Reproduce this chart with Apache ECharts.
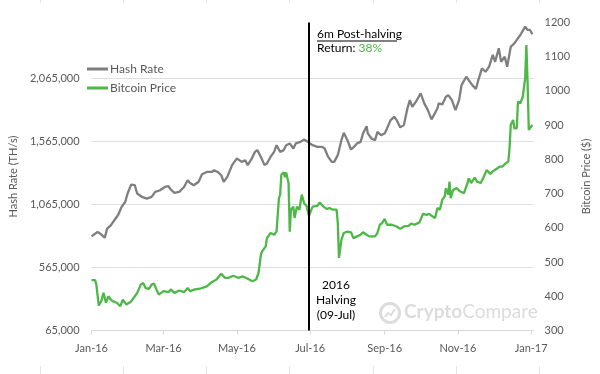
<!DOCTYPE html>
<html><head><meta charset="utf-8">
<script src="https://cdn.jsdelivr.net/npm/echarts@6.0.0/dist/echarts.min.js"></script>
<style>html,body{margin:0;padding:0;background:#fff}#c{width:600px;height:374px}</style>
</head><body><div id="c"></div>
<script>
// ---- data ----
const hashDates = ['2016-01-01','2016-01-06','2016-01-09','2016-01-12','2016-01-14','2016-01-17','2016-01-21','2016-01-23','2016-01-26','2016-01-29','2016-01-31',
'2016-02-03','2016-02-06','2016-02-08','2016-02-12','2016-02-16','2016-02-20','2016-02-23','2016-02-27',
'2016-03-02','2016-03-05','2016-03-07','2016-03-10','2016-03-14','2016-03-18','2016-03-21','2016-03-23','2016-03-26','2016-03-30',
'2016-04-02','2016-04-06','2016-04-10','2016-04-12','2016-04-15','2016-04-18','2016-04-20','2016-04-23','2016-04-27',
'2016-05-01','2016-05-05','2016-05-08','2016-05-10','2016-05-13','2016-05-16','2016-05-18','2016-05-21','2016-05-24','2016-05-26','2016-05-29',
'2016-06-01','2016-06-03','2016-06-06','2016-06-09','2016-06-11','2016-06-14','2016-06-17','2016-06-19','2016-06-23','2016-06-26','2016-06-29',
'2016-07-03','2016-07-07','2016-07-11','2016-07-13','2016-07-16','2016-07-19','2016-07-21','2016-07-24','2016-07-27','2016-07-29',
'2016-08-01','2016-08-04','2016-08-06','2016-08-09','2016-08-12','2016-08-14','2016-08-17','2016-08-18','2016-08-21','2016-08-24','2016-08-26','2016-08-29',
'2016-09-01','2016-09-03','2016-09-06','2016-09-09','2016-09-11','2016-09-14','2016-09-17','2016-09-20','2016-09-22','2016-09-24','2016-09-27',
'2016-10-01','2016-10-04','2016-10-07','2016-10-10','2016-10-12','2016-10-15','2016-10-16','2016-10-19','2016-10-22','2016-10-24','2016-10-27','2016-10-30',
'2016-11-02','2016-11-04','2016-11-08','2016-11-10','2016-11-13','2016-11-16','2016-11-18','2016-11-21','2016-11-24','2016-11-27','2016-11-30',
'2016-12-02','2016-12-05','2016-12-07','2016-12-10','2016-12-12','2016-12-15','2016-12-18','2016-12-20','2016-12-23','2016-12-27','2016-12-29','2016-12-31',
'2017-01-02'];
const hashRate = [811000,845000,827000,801000,872000,898000,952000,978000,1044000,1083000,1150000,
1221000,1216000,1150000,1123000,1110000,1123000,1163000,1176000,
1202000,1208000,1182000,1155000,1163000,1202000,1255000,1234000,1216000,1242000,
1303000,1321000,1321000,1335000,1321000,1295000,1242000,1282000,1375000,
1428000,1401000,1414000,1375000,1420000,1480000,1494000,1440000,1375000,1388000,1440000,
1480000,1533000,1480000,1494000,1533000,1547000,1507000,1547000,1559000,1578000,1559000,
1533000,1520000,1520000,1507000,1440000,1401000,1401000,1454000,1573000,1631000,
1573000,1499000,1515000,1547000,1559000,1626000,1684000,1626000,1586000,1573000,1639000,1613000,
1626000,1666000,1732000,1758000,1732000,1674000,1692000,1825000,1890000,1837000,1877000,
1944000,1864000,1811000,1737000,1771000,1825000,1864000,1856000,1917000,1930000,1890000,1811000,
1890000,2009000,2075000,2049000,2009000,1978000,2049000,2142000,2115000,2155000,2248000,
2194000,2301000,2194000,2234000,2155000,2313000,2340000,2367000,2406000,2472000,2446000,2446000,
2412000];

const priceDates = ['2016-01-01','2016-01-04','2016-01-05','2016-01-07','2016-01-09','2016-01-11','2016-01-13','2016-01-15','2016-01-17','2016-01-19','2016-01-22','2016-01-25','2016-01-27','2016-01-30',
'2016-02-03','2016-02-06','2016-02-08','2016-02-11','2016-02-13','2016-02-15','2016-02-18','2016-02-20','2016-02-22','2016-02-24','2016-02-26',
'2016-03-01','2016-03-05','2016-03-07','2016-03-10','2016-03-14','2016-03-18','2016-03-21','2016-03-23','2016-03-27','2016-03-31',
'2016-04-06','2016-04-10','2016-04-14','2016-04-18','2016-04-21','2016-04-24','2016-04-28',
'2016-05-02','2016-05-06','2016-05-10','2016-05-14','2016-05-17','2016-05-19','2016-05-21','2016-05-22','2016-05-25','2016-05-26','2016-05-29',
'2016-06-01','2016-06-03','2016-06-05','2016-06-06','2016-06-07','2016-06-09','2016-06-10','2016-06-11','2016-06-13','2016-06-14','2016-06-15','2016-06-17','2016-06-18','2016-06-20','2016-06-22','2016-06-24','2016-06-26','2016-06-28','2016-06-30',
'2016-07-03','2016-07-07','2016-07-09','2016-07-12','2016-07-15','2016-07-17','2016-07-20','2016-07-23','2016-07-24','2016-07-25','2016-07-27','2016-07-29',
'2016-08-01','2016-08-04','2016-08-06','2016-08-09','2016-08-12','2016-08-14','2016-08-17','2016-08-19','2016-08-24','2016-08-26','2016-08-28','2016-08-30',
'2016-09-01','2016-09-03','2016-09-07','2016-09-11','2016-09-14','2016-09-17','2016-09-21','2016-09-23','2016-09-26','2016-09-30',
'2016-10-03','2016-10-06','2016-10-08','2016-10-11','2016-10-13','2016-10-15','2016-10-17','2016-10-19','2016-10-21','2016-10-22','2016-10-24','2016-10-25','2016-10-26','2016-10-28','2016-10-31',
'2016-11-03','2016-11-06','2016-11-09','2016-11-10','2016-11-12','2016-11-15','2016-11-17','2016-11-20','2016-11-22','2016-11-25','2016-11-28','2016-11-30',
'2016-12-03','2016-12-06','2016-12-08','2016-12-11','2016-12-13','2016-12-14','2016-12-15','2016-12-17','2016-12-18','2016-12-20','2016-12-21','2016-12-23','2016-12-25','2016-12-27','2016-12-28','2016-12-29','2016-12-30','2016-12-31',
'2017-01-02'];
const btcPrice = [447,447,434,373,385,410,381,400,390,385,381,371,390,376,
385,400,410,434,439,424,422,434,437,420,405,
415,412,420,410,417,412,424,415,420,422,
429,441,449,466,454,454,460,
454,458,451,444,449,468,522,531,546,570,585,
580,589,687,697,755,762,748,762,731,589,653,662,629,662,653,697,672,664,635,
662,664,674,662,655,658,653,653,614,512,565,585,
589,587,570,575,580,587,580,575,575,585,609,614,
626,609,609,604,597,604,606,612,609,616,
641,638,641,633,629,658,653,682,692,716,697,735,687,711,716,
706,701,731,745,731,747,735,731,745,769,757,765,
772,779,779,789,794,833,901,915,891,891,969,964,983,1037,1134,1027,886,891,
901];

const tickDates = ['2016-01-01','2016-03-01','2016-05-01','2016-07-01','2016-09-01','2016-11-01','2017-01-01'];
const tickLabels = ['Jan-16','Mar-16','May-16','Jul-16','Sep-16','Nov-16','Jan-17'];
const xRange = ['2016-01-01', '2017-01-03'];
const halvingLineDate = '2016-06-30';
const hashTicks = [65000, 2505000, 500000]; // min, max, step
const priceTicks = [300, 1200, 100];

// ---- chart ----
const P = s => { const [y, m, d] = s.split('-').map(Number); return Date.UTC(y, m - 1, d); };
const tickTimes = tickDates.map(P);
const FONT = 'Lato';
const AX = '#595959';
const GRAY = '#7f7f7f';
const GREEN = '#4db848';

const chart = echarts.init(document.getElementById('c'), null, {renderer: 'canvas'});
const colLines = [40, 123, 206, 289, 373, 456, 539];
const deco = [];
colLines.forEach(x => {
  deco.push({type: 'line', silent: true, shape: {x1: x + 0.5, y1: 0, x2: x + 0.5, y2: 3}, style: {stroke: '#e4e4e4', lineWidth: 1}});
  deco.push({type: 'line', silent: true, shape: {x1: x + 0.5, y1: 366, x2: x + 0.5, y2: 374}, style: {stroke: '#e4e4e4', lineWidth: 1}});
});

chart.setOption({
  animation: false,
  backgroundColor: '#fff',
  textStyle: {fontFamily: FONT},
  grid: {left: 80, right: 60, top: 22.5, bottom: 43.5, containLabel: false},
  legend: {
    orient: 'vertical', left: 82, top: 58, itemWidth: 21, itemHeight: 3, itemGap: 7,
    textStyle: {fontFamily: FONT, fontSize: 12, color: AX, padding: [0, 0, 0, -3]},
    data: [{name: 'Hash Rate', icon: 'rect'}, {name: 'Bitcoin Price', icon: 'rect'}]
  },
  xAxis: {
    type: 'value', min: P(xRange[0]), max: P(xRange[1]),
    axisLine: {lineStyle: {color: '#d9d9d9', width: 1}},
    axisTick: {show: true, length: 4, customValues: tickTimes, lineStyle: {color: '#d9d9d9'}},
    axisLabel: {
      customValues: tickTimes, margin: 12, color: AX, fontFamily: FONT, fontSize: 11,
      formatter: v => { let i = tickTimes.findIndex(t => Math.abs(t - v) < 43200000); return i >= 0 ? tickLabels[i] : ''; }
    },
    splitLine: {show: false}
  },
  yAxis: [{
    type: 'value', min: hashTicks[0], max: hashTicks[1], interval: hashTicks[2],
    name: 'Hash Rate (TH/s)', nameLocation: 'middle', nameGap: 65,
    nameTextStyle: {color: AX, fontFamily: FONT, fontSize: 11},
    axisLine: {show: false}, axisTick: {show: false},
    axisLabel: {color: AX, fontFamily: FONT, fontSize: 11, margin: 12, showMaxLabel: false,
      formatter: v => v.toLocaleString('en-US')},
    splitLine: {show: true, showMaxLine: false, lineStyle: {color: '#dedede', width: 1}}
  }, {
    type: 'value', position: 'right', min: priceTicks[0], max: priceTicks[1], interval: priceTicks[2],
    name: 'Bitcoin Price ($)', nameLocation: 'middle', nameGap: 43, nameRotate: 90,
    nameTextStyle: {color: AX, fontFamily: FONT, fontSize: 11},
    axisLine: {show: false}, axisTick: {show: false},
    axisLabel: {color: AX, fontFamily: FONT, fontSize: 11, margin: 11, formatter: v => String(v)},
    splitLine: {show: false}
  }],
  series: [{
    name: 'Hash Rate', type: 'line', yAxisIndex: 0, showSymbol: false, symbol: 'none',
    data: hashDates.map((d, i) => [P(d), hashRate[i]]),
    lineStyle: {color: GRAY, width: 2.3}, itemStyle: {color: GRAY}, z: 3,
    markLine: {silent: true, symbol: 'none', label: {show: false},
      lineStyle: {color: '#000', width: 2, type: 'solid'},
      data: [{xAxis: P(halvingLineDate)}], z: 10}
  }, {
    name: 'Bitcoin Price', type: 'line', yAxisIndex: 1, showSymbol: false, symbol: 'none',
    data: priceDates.map((d, i) => [P(d), btcPrice[i]]),
    lineStyle: {color: GREEN, width: 2.3}, itemStyle: {color: GREEN}, z: 4
  }],
  graphic: deco.concat([
    {type: 'text', left: 317, top: 28, style: {text: '6m Post-halving', font: '12px Lato', fill: '#000'}},
    {type: 'line', shape: {x1: 317, y1: 41, x2: 397, y2: 41}, style: {stroke: '#000', lineWidth: 1}},
    {type: 'text', left: 317, top: 42, style: {
      text: '{a|Return: }{b|38%}',
      rich: {a: {font: '12px Lato', fill: '#000'}, b: {font: '12px Lato', fill: GREEN}}}},
    {type: 'text', x: 336, y: 278, style: {
      text: '2016\nHalving\n(09-Jul)', font: '12px Lato', fill: '#000', align: 'center', lineHeight: 15}},
    {type: 'group', left: 378, top: 301, children: [
      {type: 'circle', shape: {cx: 12, cy: 11, r: 9.5}, style: {fill: 'none', stroke: '#dcdcdc', lineWidth: 3}},
      {type: 'polyline', shape: {points: [[7, 15], [10, 11], [13, 13], [17, 7]]}, style: {stroke: '#dcdcdc', lineWidth: 2, fill: 'none'}},
      {type: 'text', x: 26, y: 0, style: {
        text: '{a|Crypto}{b|Compare}',
        rich: {a: {font: 'bold 19px Lato', fill: '#dcdcdc'}, b: {font: '19px Lato', fill: '#dcdcdc'}}}}
    ]}
  ])
});
</script></body></html>
